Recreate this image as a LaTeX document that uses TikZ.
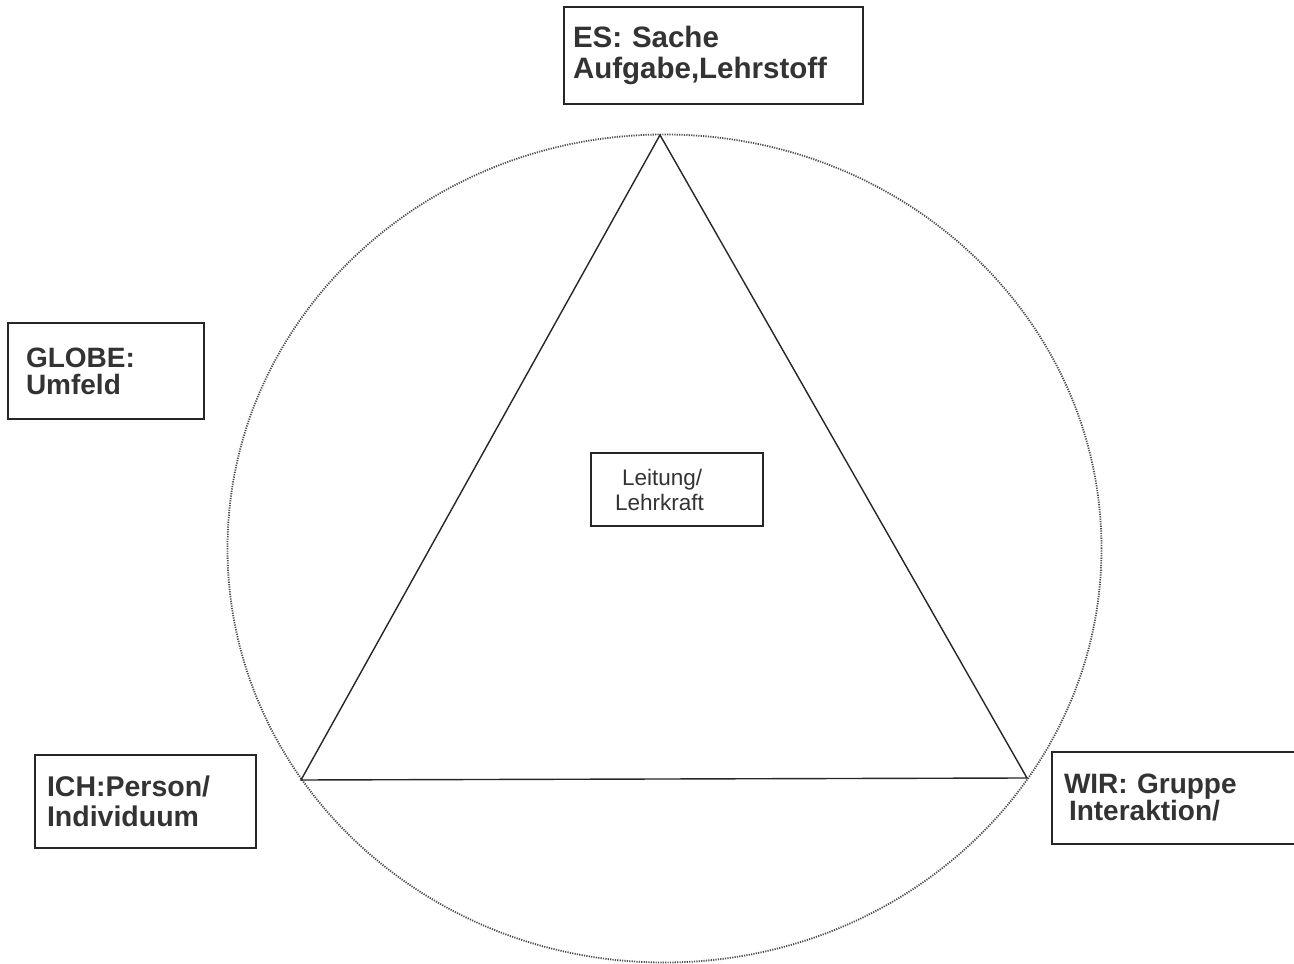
\documentclass[tikz,border=0pt]{standalone}
\usepackage{fontspec}
\setmainfont{Liberation Sans}
\begin{document}
\begin{tikzpicture}[x=1pt,y=1pt,
  lbox/.style={draw=black!85, line width=1.3pt, rectangle, align=left, inner ysep=0pt, text=black!80},
  bigtxt/.style={font=\fontsize{28}{#1}\selectfont\bfseries},
  edge/.style={line width=1.4pt, black!85},
  ring/.style={draw=black!70, line width=1.8pt, dash pattern=on 1.2pt off 1.2pt}]
\useasboundingbox (0,0) rectangle (1294,964);
\fill[white] (0,0) rectangle (1294,964);
% dotted ellipse
\draw[ring] (664.5,415.5) ellipse [x radius=437, y radius=414];
% triangle vertices
\coordinate (top) at (660,829);
\coordinate (bl) at (301,184);
\coordinate (br) at (1027,186);
\draw[edge, line join=miter] (top) -- (bl) -- (br) -- cycle;
% boxes
\node[lbox, font=\fontsize{29.5}{31}\selectfont\bfseries, minimum width=299, minimum height=97, text width=281, inner xsep=9] (es) at (713.5,908.5) {ES: Sache\\Aufgabe,Lehrstoff};
\node[lbox, bigtxt=27, minimum width=196, minimum height=96, text width=160, inner xsep=18] (globe) at (106,593) {GLOBE:\\Umfeld};
\node[lbox, font=\fontsize{28.5}{30}\selectfont\bfseries, minimum width=221, minimum height=93, text width=197, inner xsep=12] (ich) at (145.5,162.5) {ICH:Person/\\Individuum};
\node[lbox, bigtxt=27, minimum width=260, minimum height=92, text width=236, inner xsep=12] (wir) at (1182,166) {WIR: Gruppe\\\hspace*{5pt}Interaktion/};
\node[lbox, font=\fontsize{22.5}{25}\selectfont, minimum width=172, minimum height=73, text width=124, inner xsep=24] (lead) at (677,474.5) {\hspace*{7pt}Leitung/\\Lehrkraft};
\end{tikzpicture}
\end{document}
